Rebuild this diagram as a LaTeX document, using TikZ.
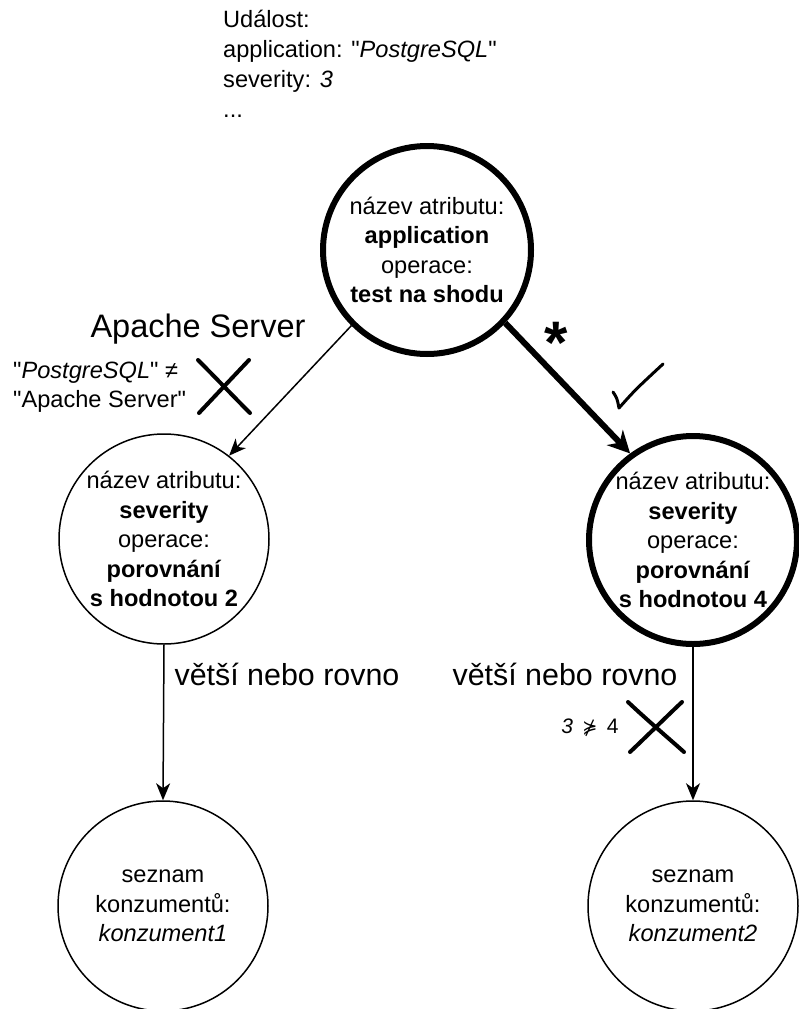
\documentclass[tikz,border=0pt]{standalone}
\usepackage{fontspec}
\setmainfont{Liberation Sans}
\newfontfamily\symfont{DejaVu Sans}
\usetikzlibrary{arrows.meta}
\newcommand{\qt}{\textquotedbl}

\begin{document}
\begin{tikzpicture}[x=1pt, y=-1pt,
  every node/.style={inner sep=0pt, font=\fontsize{23.6}{29.5}\selectfont},
  state/.style={circle, draw, line width=1.5pt, minimum size=210pt, align=center},
  chosen/.style={state, line width=6pt, minimum size=208pt},
  edge/.style={line width=1.5pt, -{Stealth[length=17pt, width=14pt, inset=5pt]}},
  hotedge/.style={line width=6pt, -{Stealth[length=22pt, width=22pt, inset=7pt]}},
  cond/.style={font=\fontsize{30.4}{36}\selectfont, anchor=base},
  strike/.style={line width=4pt, line cap=round},
]
\useasboundingbox (0,0) rectangle (798,1009);

% decision tree nodes
\node[chosen] (attr) at (427,250)
  {název atributu:\\\textbf{application}\\operace:\\\textbf{test na shodu}};
\node[state] (sevL) at (164,539)
  {název atributu:\\\textbf{severity}\\operace:\\\textbf{porovnání}\\\textbf{s hodnotou 2}};
\node[chosen] (sevR) at (693,540)
  {název atributu:\\\textbf{severity}\\operace:\\\textbf{porovnání}\\\textbf{s hodnotou 4}};
\node[state] (consL) at (163,906) {seznam\\konzumentů:\\\textit{konzument1}};
\node[state] (consR) at (693,906) {seznam\\konzumentů:\\\textit{konzument2}};

% edges
\draw[edge] (attr.225) -- (sevL.52);
\draw[hotedge] (attr.317) -- (sevR.126);
\draw[edge] (sevL.south) -- (consL.north);
\draw[edge] (sevR.south) -- (consR.north);

% incoming event
\node[anchor=north west, align=left, font=\fontsize{23.6}{30}\selectfont] (event) at (223,10)
  {Událost:\\application: \qt\textit{PostgreSQL}\qt\\severity: \textit{3}\\...};

% edge labels
\node[anchor=base, font=\fontsize{32.5}{39}\selectfont] (apache) at (198,337) {Apache Server};
\node[anchor=base, font=\bfseries\fontsize{60}{60}\selectfont] (star) at (556,363) {*};
\node[cond] (geL) at (287,685) {větší nebo rovno};
\node[cond] (geR) at (565,685) {větší nebo rovno};

% evaluation notes
\node[anchor=north west, align=left, font=\fontsize{23.6}{29}\selectfont] (mismatch) at (13,361.5)
  {\qt\textit{PostgreSQL}\qt{} ≠\\\qt Apache Server\qt};
\node[anchor=base, font=\fontsize{21}{24}\selectfont] (cmp) at (590,733)
  {\textit{3}\, {\symfont\fontsize{18}{20}\selectfont ⋡}\, 4};

% failed tests
\draw[strike] (198,360) .. controls (216,378) and (233,396) .. (250,413);
\draw[strike] (249,360) .. controls (232,378) and (215,396) .. (199,413);
\draw[strike] (628,702) .. controls (646,719) and (666,736) .. (684,752);
\draw[strike] (682,702) .. controls (664,719) and (647,736) .. (630,752);

% passed test
\draw[line width=3pt, line cap=round, line join=round]
  (613,392) .. controls (617,398) .. (619,408) .. controls (635,390) .. (663,364);
\end{tikzpicture}
\end{document}
